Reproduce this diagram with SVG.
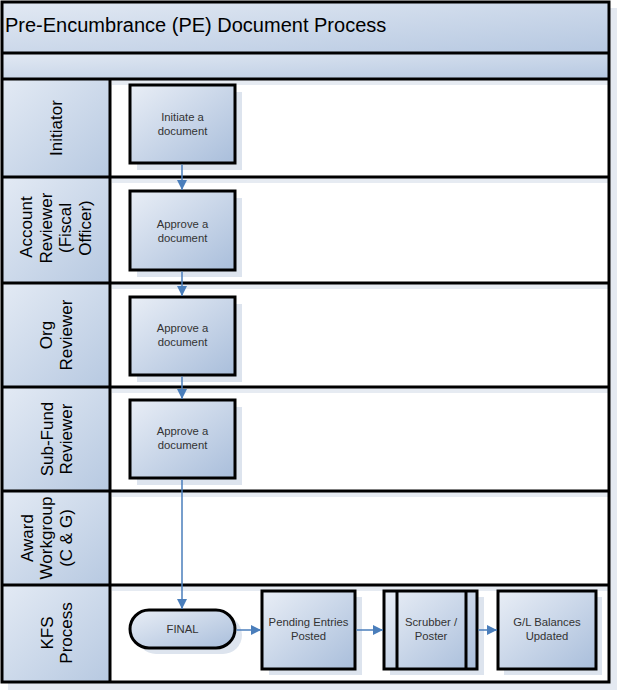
<svg xmlns="http://www.w3.org/2000/svg" width="617" height="690" viewBox="0 0 617 690">
<defs>
<linearGradient id="gBand" x1="0" y1="0" x2="1" y2="1">
<stop offset="0" stop-color="#e2e9f3"/><stop offset="1" stop-color="#b6c8e1"/>
</linearGradient>
<linearGradient id="gHead" x1="0" y1="0" x2="1" y2="1">
<stop offset="0" stop-color="#e3eaf4"/><stop offset="1" stop-color="#b7c9e1"/>
</linearGradient>
<linearGradient id="gBox" x1="0" y1="0" x2="1" y2="1">
<stop offset="0" stop-color="#e9eef6"/><stop offset="1" stop-color="#a9bedb"/>
</linearGradient>
<marker id="ah" viewBox="0 0 10 10" refX="10" refY="5" markerWidth="10" markerHeight="10" markerUnits="userSpaceOnUse" orient="auto">
<path d="M0,0 L10,5 L0,10 z" fill="#4a7ebb"/>
</marker>
</defs>
<style>
.frame{fill:none;stroke:#000;stroke-width:3}
.sep{stroke:#000;stroke-width:3}
.head{fill:url(#gHead)}
.lt{font-family:"Liberation Sans",Arial,sans-serif;font-size:17px;fill:#000;text-anchor:middle}
.box{fill:url(#gBox);stroke:#000;stroke-width:3}
.shadow{fill:#dde4ee}
.bt{font-family:"Liberation Sans",Arial,sans-serif;font-size:11.3px;fill:#333;text-anchor:middle}
.conn{fill:none;stroke:#4a7ebb;stroke-width:1.5;marker-end:url(#ah)}
.laneshade{fill:#e6ebf2}
</style>

<!-- frame shadow -->
<rect x="8" y="8" width="609" height="682" fill="#e4e9f1"/>
<rect x="2" y="2" width="607" height="680" fill="#fff"/>

<!-- title bands -->
<rect x="2" y="2" width="607" height="51" fill="url(#gBand)"/>
<rect x="2" y="53" width="607" height="26" fill="url(#gBand)"/>
<text x="5" y="32" font-family="'Liberation Sans',Arial,sans-serif" font-size="20" fill="#000">Pre-Encumbrance (PE) Document Process</text>

<!-- lane content top shading -->
<rect x="112" y="80" width="496" height="5" class="laneshade"/>
<rect x="112" y="178" width="496" height="5" class="laneshade"/>
<rect x="112" y="284" width="496" height="5" class="laneshade"/>
<rect x="112" y="388" width="496" height="5" class="laneshade"/>
<rect x="112" y="492" width="496" height="5" class="laneshade"/>
<rect x="112" y="586" width="496" height="5" class="laneshade"/>

<!-- lane headers -->
<g id="lane-initiator">
<rect x="2" y="79" width="108" height="98" class="head"/>
<text class="lt" transform="translate(62,128) rotate(-90)">Initiator</text>
</g>
<g id="lane-account">
<rect x="2" y="177" width="108" height="106" class="head"/>
<text class="lt" transform="translate(32,227) rotate(-90)">Account</text>
<text class="lt" transform="translate(52,228) rotate(-90)">Reviewer</text>
<text class="lt" transform="translate(71,228) rotate(-90)">(Fiscal</text>
<text class="lt" transform="translate(91,228) rotate(-90)">Officer)</text>
</g>
<g id="lane-org">
<rect x="2" y="283" width="108" height="104" class="head"/>
<text class="lt" transform="translate(52,335) rotate(-90)">Org</text>
<text class="lt" transform="translate(72,335) rotate(-90)">Reviewer</text>
</g>
<g id="lane-subfund">
<rect x="2" y="387" width="108" height="104" class="head"/>
<text class="lt" transform="translate(53,439) rotate(-90)">Sub-Fund</text>
<text class="lt" transform="translate(72,439) rotate(-90)">Reviewer</text>
</g>
<g id="lane-award">
<rect x="2" y="491" width="108" height="94" class="head"/>
<text class="lt" transform="translate(33,538) rotate(-90)">Award</text>
<text class="lt" transform="translate(52,538) rotate(-90)">Workgroup</text>
<text class="lt" transform="translate(72,538) rotate(-90)">(C &amp; G)</text>
</g>
<g id="lane-kfs">
<rect x="2" y="585" width="108" height="97" class="head"/>
<text class="lt" transform="translate(53,633) rotate(-90)">KFS</text>
<text class="lt" transform="translate(72,633) rotate(-90)">Process</text>
</g>

<!-- lines -->
<g id="grid">
<line x1="2" y1="53" x2="609" y2="53" class="sep"/>
<line x1="2" y1="79" x2="609" y2="79" class="sep"/>
<line x1="2" y1="177" x2="609" y2="177" class="sep"/>
<line x1="2" y1="283" x2="609" y2="283" class="sep"/>
<line x1="2" y1="387" x2="609" y2="387" class="sep"/>
<line x1="2" y1="491" x2="609" y2="491" class="sep"/>
<line x1="2" y1="585" x2="609" y2="585" class="sep"/>
<line x1="110" y1="79" x2="110" y2="682" class="sep"/>
<rect x="2" y="2" width="607" height="680" class="frame"/>
</g>

<!-- nodes -->
<g id="n-initiate">
<rect x="137" y="92" width="105" height="78" class="shadow"/>
<rect x="130" y="85" width="105" height="78" class="box"/>
<text class="bt" x="182.5" y="121">Initiate a</text>
<text class="bt" x="182.5" y="135">document</text>
</g>
<g id="n-approve1">
<rect x="137" y="198" width="105" height="79" class="shadow"/>
<rect x="130" y="191" width="105" height="79" class="box"/>
<text class="bt" x="182.5" y="228">Approve a</text>
<text class="bt" x="182.5" y="242">document</text>
</g>
<g id="n-approve2">
<rect x="137" y="304" width="105" height="78" class="shadow"/>
<rect x="130" y="297" width="105" height="78" class="box"/>
<text class="bt" x="182.5" y="332">Approve a</text>
<text class="bt" x="182.5" y="346">document</text>
</g>
<g id="n-approve3">
<rect x="137" y="407" width="105" height="78" class="shadow"/>
<rect x="130" y="400" width="105" height="78" class="box"/>
<text class="bt" x="182.5" y="435">Approve a</text>
<text class="bt" x="182.5" y="449">document</text>
</g>
<g id="n-final">
<rect x="137" y="616" width="105" height="38" rx="19" class="shadow"/>
<rect x="130" y="610" width="105" height="38" rx="19" class="box"/>
<text class="bt" x="182.5" y="633">FINAL</text>
</g>
<g id="n-pending">
<rect x="269" y="597" width="93" height="78" class="shadow"/>
<rect x="262" y="591" width="93" height="78" class="box"/>
<text class="bt" x="308.5" y="626">Pending Entries</text>
<text class="bt" x="308.5" y="640">Posted</text>
</g>
<g id="n-scrubber">
<rect x="390" y="597" width="94" height="78" class="shadow"/>
<rect x="384" y="591" width="93" height="78" class="box"/>
<line x1="397" y1="591" x2="397" y2="669" class="sep"/>
<line x1="466" y1="591" x2="466" y2="669" class="sep"/>
<text class="bt" x="431" y="626">Scrubber /</text>
<text class="bt" x="431" y="640">Poster</text>
</g>
<g id="n-gl">
<rect x="504" y="597" width="98" height="78" class="shadow"/>
<rect x="498" y="591" width="98" height="78" class="box"/>
<text class="bt" x="547" y="626">G/L Balances</text>
<text class="bt" x="547" y="640">Updated</text>
</g>

<!-- connectors -->
<g id="connectors">
<line x1="182" y1="164.5" x2="182" y2="190" class="conn"/>
<line x1="182" y1="271.5" x2="182" y2="296" class="conn"/>
<line x1="182" y1="376.5" x2="182" y2="399" class="conn"/>
<line x1="182" y1="479.5" x2="182" y2="609" class="conn"/>
<line x1="236.5" y1="630" x2="261" y2="630" class="conn"/>
<line x1="356.5" y1="630" x2="383" y2="630" class="conn"/>
<line x1="478.5" y1="630" x2="497" y2="630" class="conn"/>
</g>
</svg>
